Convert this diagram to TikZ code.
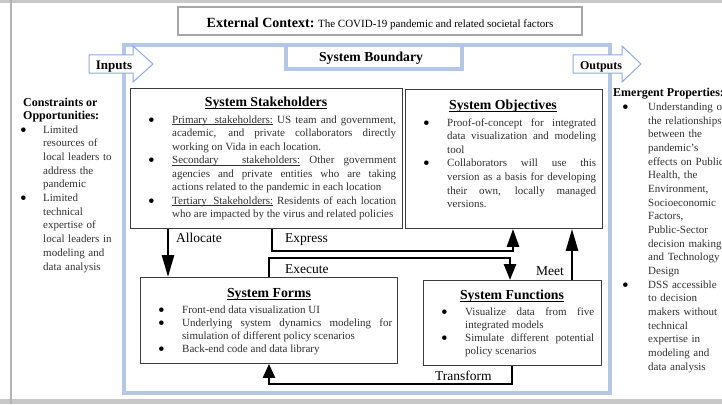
\documentclass[tikz,border=0pt]{standalone}
\usepackage{fontspec}
\setmainfont{Liberation Serif}
\usetikzlibrary{arrows.meta}
\definecolor{frameblue}{HTML}{B4C7E7}
\definecolor{arrowblue}{HTML}{8FAADC}
\definecolor{boxgray}{HTML}{3C3C3C}
\definecolor{extgray}{HTML}{A6A6A6}
\definecolor{edgegray}{HTML}{C8C8C8}
\definecolor{bodytext}{HTML}{303030}
\hyphenpenalty=10000
\exhyphenpenalty=10000
\tolerance=9999
\newcommand{\bigbul}{\raisebox{-3pt}[0pt][0pt]{\fontsize{19}{0}\selectfont\textcolor{black}{\textbullet}}}
\newcommand{\bitem}[2][24pt]{\hangindent=#1\hangafter=1\noindent\makebox[#1][l]{\bigbul}#2\par}
% underlined word and stretchable underlined space
\newcommand{\ulw}[1]{\setbox0=\hbox{#1}\leavevmode\rlap{\rule[-1.8pt]{\wd0}{0.55pt}}\box0\relax}
\newcommand{\ulsp}{\leaders\hrule height -1.25pt depth 1.8pt\hskip 0.25em plus 0.4em minus 0.05em}
\newcommand{\ultitle}[1]{\setbox0=\hbox{#1}\leavevmode\rlap{\rule[-3pt]{\wd0}{0.8pt}}\box0\relax}
\tikzset{
  sysbox/.style={draw=boxgray, line width=0.9pt, fill=white, anchor=north west, inner sep=0pt},
  boxtitle/.style={font=\fontsize{13.8}{16}\selectfont\bfseries, anchor=base, inner sep=0pt},
  bodyblk/.style={anchor=base west, inner sep=0pt, align=justify, text=bodytext},
  raggedblk/.style={anchor=base west, inner sep=0pt, align=left, text=bodytext},
  headtxt/.style={font=\fontsize{12}{14}\selectfont\bfseries, anchor=base west, inner sep=0pt},
  flow/.style={line width=2.6pt, draw=black},
  lbl/.style={font=\fontsize{13.5}{16}\selectfont, inner sep=0pt},
  ioarrow/.style={draw=arrowblue, line width=1pt, fill=white},
}
\begin{document}
\begin{tikzpicture}[x=1pt,y=-1pt]
\useasboundingbox (0,0) rectangle (722,404);
% outer edges of the picture
\draw[edgegray, line width=3pt] (0,1.5) -- (722,1.5);
\draw[edgegray, line width=5pt] (0,401.5) -- (722,401.5);
\draw[edgegray!90!black, line width=1.5pt] (11,0) -- (11,404);

% external context
\node[draw=extgray, line width=2.5pt, minimum width=404pt, minimum height=28pt, inner sep=0pt] (ext) at (380,21) {};
\node[anchor=base, inner sep=0pt] (exttxt) at (380,27.3) {{\fontsize{14}{16}\selectfont\bfseries External Context:}{\fontsize{11}{13}\selectfont{} The COVID-19 pandemic and related societal factors}};

% system boundary frame
\node[draw=frameblue, line width=4pt, minimum width=486pt, minimum height=347pt, anchor=north west, inner sep=0pt] (frame) at (122,43.5) {};
\node[draw=frameblue, line width=4pt, fill=white, minimum width=176pt, minimum height=23.5pt, anchor=north west, inner sep=0pt] (bnd) at (283.5,43.5) {};
\node[font=\fontsize{13.7}{16}\selectfont\bfseries, anchor=base, inner sep=0pt] (bndtxt) at (371,62) {System Boundary};

% input / output arrows
\draw[ioarrow] (89,55) -- (133,55) -- (133,46) -- (153,64) -- (133,82) -- (133,73) -- (89,73) -- cycle;
\node[font=\fontsize{13}{15}\selectfont\bfseries, anchor=base, inner sep=0pt] (intxt) at (114,70) {Inputs};
\draw[ioarrow] (573,55) -- (622,55) -- (622,46) -- (641,64) -- (622,82) -- (622,73) -- (573,73) -- cycle;
\node[font=\fontsize{12}{14}\selectfont\bfseries, anchor=base, inner sep=0pt] (outtxt) at (601,69.5) {Outputs};

% constraints (left)
\node[headtxt] (cons1) at (23,106) {Constraints or};
\node[headtxt] (cons2) at (23,119.5) {Opportunities:};
\node[raggedblk, text width=100pt, font=\fontsize{11}{13.7}\selectfont] (constxt) at (20,133) {%
\bitem[23pt]{Limited \linebreak resources of \linebreak local leaders to \linebreak address the \linebreak pandemic}%
\bitem[23pt]{Limited \linebreak technical \linebreak expertise of \linebreak local leaders in \linebreak modeling and \linebreak data analysis}};

% emergent properties (right)
\node[headtxt] (emg) at (613,96) {Emergent Properties:};
\node[raggedblk, text width=115pt, font=\fontsize{11}{13.66}\selectfont] (emgtxt) at (622,110.5) {%
\bitem[26pt]{Understanding of \linebreak the relationships \linebreak between the \linebreak pandemic’s \linebreak effects on Public \linebreak Health, the \linebreak Environment, \linebreak Socioeconomic \linebreak Factors, \linebreak Public-Sector \linebreak decision making, \linebreak and Technology \linebreak Design}%
\bitem[26pt]{DSS accessible \linebreak to decision \linebreak makers without \linebreak technical \linebreak expertise in \linebreak modeling and \linebreak data analysis}};

% system stakeholders
\node[sysbox, minimum width=272pt, minimum height=140pt] (stake) at (130,88) {};
\node[boxtitle] (staketit) at (266,106) {\ultitle{System Stakeholders}};
\node[bodyblk, text width=248pt, font=\fontsize{11}{13.5}\selectfont] (staketxt) at (148,123) {%
\bitem[24pt]{\ulw{Primary}\ulsp\ulw{stakeholders:} US team and government, \linebreak academic, and private collaborators directly \linebreak working on Vida in each location.}%
\bitem[24pt]{\ulw{Secondary}\ulsp\ulw{stakeholders:} Other government \linebreak agencies and private entities who are taking \linebreak actions related to the pandemic in each location}%
\bitem[24pt]{\ulw{Tertiary}\ulsp\ulw{Stakeholders:} Residents of each location \linebreak who are impacted by the virus and related policies}};

% system objectives
\node[sysbox, minimum width=197pt, minimum height=139pt] (obj) at (405,89) {};
\node[boxtitle] (objtit) at (503,109) {\ultitle{System Objectives}};
\node[bodyblk, text width=173pt, font=\fontsize{11}{13.6}\selectfont] (objtxt) at (423,126) {%
\bitem{Proof-of-concept for integrated \linebreak data visualization and modeling \linebreak tool}%
\bitem{Collaborators will use this \linebreak version as a basis for developing \linebreak their own, locally managed \linebreak versions.}};

% system forms
\node[sysbox, minimum width=257pt, minimum height=86pt] (forms) at (140,277) {};
\node[boxtitle] (formstit) at (269,297) {\ultitle{System Forms}};
\node[bodyblk, text width=234pt, font=\fontsize{11}{13}\selectfont] (formstxt) at (158,313.5) {%
\bitem{Front-end data visualization UI}%
\bitem{Underlying system dynamics modeling for \linebreak simulation of different policy scenarios}%
\bitem{Back-end code and data library}};

% system functions
\node[sysbox, minimum width=178pt, minimum height=85pt] (func) at (423,280) {};
\node[boxtitle] (functit) at (512,299) {\ultitle{System Functions}};
\node[bodyblk, text width=153pt, font=\fontsize{11}{13}\selectfont] (functxt) at (441,315.5) {%
\bitem{Visualize data from five \linebreak integrated models}%
\bitem{Simulate different potential \linebreak policy scenarios}};

% connectors
\draw[flow, -{Triangle[width=12pt,length=22pt]}] ([xshift=38pt]stake.south west) -- ([xshift=28pt]forms.north west);
\draw[flow, -{Triangle[width=12pt,length=18pt]}] ([xshift=142pt]stake.south west) -- ++(0,22) -| ([xshift=108pt]obj.south west);
\draw[flow, -{Triangle[width=12pt,length=16pt]}] ([xshift=129pt]forms.north west) -- ++(0,-19) -| ([xshift=87pt]func.north west);
\draw[flow, -{Triangle[width=12pt,length=22pt]}] ([xshift=149pt]func.north west) -- ([xshift=167pt]obj.south west);
\draw[flow, -{Triangle[width=12pt,length=14pt]}] ([xshift=89pt]func.south west) -- ++(0,18) -| ([xshift=129pt]forms.south west);

% connector labels
\node[lbl, anchor=base west] (lalloc) at (176,242) {Allocate};
\node[lbl, anchor=base west] (lexpr) at (285,242) {Express};
\node[lbl, anchor=base west] (lexec) at (285,273) {Execute};
\node[lbl, anchor=base east] (lmeet) at (564,275) {Meet};
\node[lbl, anchor=base west] (ltrans) at (435,380) {Transform};
\end{tikzpicture}
\end{document}
